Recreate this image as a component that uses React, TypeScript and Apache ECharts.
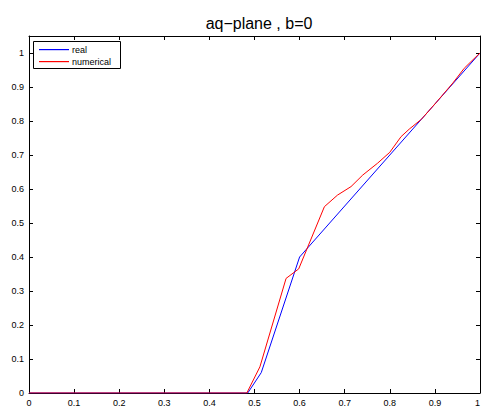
import React, { useEffect, useRef } from "react";
import * as echarts from "echarts";

const titleText = "aq\u2212plane , b=0";
const seriesNames = ["real", "numerical"];
const seriesColors = ["#0000ff", "#ff0000"];
const realX = [0, 0.485, 0.515, 0.6, 1];
const realY = [0, 0, 0.06, 0.4, 1];
const numX = [0, 0.483, 0.512, 0.57, 0.598, 0.655, 0.684, 0.714, 0.74, 0.773, 0.8, 0.825, 0.843, 0.87, 0.9, 0.94, 0.965, 0.978, 1];
const numY = [0, 0, 0.077, 0.337, 0.365, 0.548, 0.582, 0.607, 0.641, 0.676, 0.708, 0.754, 0.776, 0.805, 0.85, 0.912, 0.955, 0.972, 1];

const fmt = (v: number) => {
  const r = Math.round(v * 10);
  if (Math.abs(v * 10 - r) > 1e-6) return "";
  return String(r / 10);
};

export default function App() {
  const ref = useRef<HTMLDivElement>(null);
  useEffect(() => {
    if (!ref.current) return;
    const chart = echarts.init(ref.current, undefined, { renderer: "svg" });
    const font = "'Liberation Sans', Arial, sans-serif";
    const axisCommon = {
      type: "value" as const,
      splitLine: { show: false },
      axisLine: { show: true, onZero: false, lineStyle: { color: "#000", width: 1 } },
      axisTick: { show: true, inside: true, length: 4, lineStyle: { color: "#000" } },
    };
    const legendElems: any[] = [
      {
        type: "rect",
        shape: { x: 33.5, y: 41.5, width: 87, height: 27 },
        style: { fill: "#fff", stroke: "#000", lineWidth: 1 },
        z: 100,
      },
    ];
    seriesNames.forEach((n, i) => {
      const y = 49 + i * 12;
      legendElems.push({
        type: "rect",
        shape: { x: 39, y: y, width: 30, height: 1.2 },
        style: { fill: seriesColors[i], stroke: null, lineWidth: 0 },
        z: 101,
      });
      legendElems.push({
        type: "text",
        x: 72,
        y: y + 0.5,
        style: { text: n, fontFamily: font, fontSize: 9, fill: "#000", verticalAlign: "middle", align: "left" },
        z: 101,
      });
    });
    chart.setOption({
      animation: false,
      backgroundColor: "#fff",
      color: seriesColors,
      title: {
        text: titleText,
        left: 254,
        textAlign: "center",
        top: 10,
        textStyle: { fontFamily: font, fontSize: 16, fontWeight: "normal", color: "#000" },
      },
      grid: { left: 29, right: 1, top: 36, bottom: 16, show: false, outerBoundsMode: "none", containLabel: false },
      graphic: legendElems,
      xAxis: [
        {
          ...axisCommon,
          position: "bottom",
          min: 0,
          max: 1,
          interval: 0.1,
          axisLabel: { formatter: fmt, fontFamily: font, fontSize: 9, color: "#000", margin: 5, alignMaxLabel: "right" },
        },
        {
          ...axisCommon,
          position: "top",
          min: 0,
          max: 1,
          interval: 0.1,
          axisLabel: { show: false },
        },
      ],
      yAxis: [
        {
          ...axisCommon,
          position: "left",
          min: 0,
          max: 1.05,
          interval: 0.1,
          axisLabel: { formatter: fmt, fontFamily: font, fontSize: 9, color: "#000", margin: 5, showMaxLabel: false },
        },
        {
          ...axisCommon,
          position: "right",
          min: 0,
          max: 1.05,
          interval: 0.1,
          axisLabel: { show: false },
        },
      ],
      series: [
        {
          name: seriesNames[0],
          type: "line",
          symbol: "none",
          color: seriesColors[0],
          data: realX.map((x, i) => [x, realY[i]]),
          lineStyle: { color: seriesColors[0], width: 1 },
          itemStyle: { color: seriesColors[0] },
        },
        {
          name: seriesNames[1],
          type: "line",
          symbol: "none",
          color: seriesColors[1],
          data: numX.map((x, i) => [x, numY[i]]),
          lineStyle: { color: seriesColors[1], width: 1 },
          itemStyle: { color: seriesColors[1] },
        },
      ],
    });
    return () => chart.dispose();
  }, []);
  return (
    <div
      ref={ref}
      style={{ position: "absolute", left: 0, top: 0, width: 481, height: 409 }}
    />
  );
}
